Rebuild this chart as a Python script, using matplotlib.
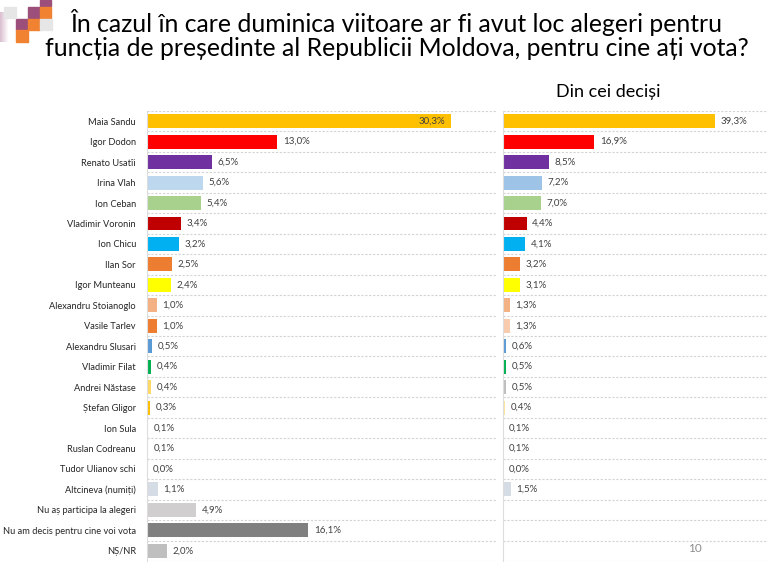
import matplotlib.pyplot as plt
from matplotlib.patches import Rectangle

plt.rcParams['font.family'] = ['Lato', 'DejaVu Sans']

names = ['Maia Sandu', 'Igor Dodon', 'Renato Usatîi', 'Irina Vlah', 'Ion Ceban',
         'Vladimir Voronin', 'Ion Chicu', 'Ilan Sor', 'Igor Munteanu',
         'Alexandru Stoianoglo', 'Vasile Tarlev', 'Alexandru Slusari',
         'Vladimir Filat', 'Andrei Năstase', 'Ștefan Gligor', 'Ion Sula',
         'Ruslan Codreanu', 'Tudor Ulianov schi', 'Altcineva (numiți)',
         'Nu aș participa la alegeri', 'Nu am decis pentru cine voi vota', 'NȘ/NR']
total_vals = [30.3, 13.0, 6.5, 5.6, 5.4, 3.4, 3.2, 2.5, 2.4, 1.0, 1.0, 0.5,
              0.4, 0.4, 0.3, 0.1, 0.1, 0.0, 1.1, 4.9, 16.1, 2.0]
decided_vals = [39.3, 16.9, 8.5, 7.2, 7.0, 4.4, 4.1, 3.2, 3.1, 1.3, 1.3, 0.6,
                0.5, 0.5, 0.4, 0.1, 0.1, 0.0, 1.5]

left_colors = ['#FFC000', '#FF0000', '#7030A0', '#BDD7EE', '#A9D18E', '#C00000',
               '#00B0F0', '#ED7D31', '#FFFF00', '#F4B183', '#ED7D31', '#5B9BD5',
               '#00B050', '#FFD966', '#FFC000', '#FBE5D6', '#FFE699', '#FFFFFF',
               '#D6DCE5', '#D0CECE', '#808080', '#BFBFBF']
right_colors = ['#FFC000', '#FF0000', '#7030A0', '#9DC3E6', '#A9D18E', '#C00000',
                '#00B0F0', '#ED7D31', '#FFFF00', '#F4B183', '#F8CBAD', '#5B9BD5',
                '#00B050', '#BFBFBF', '#FFE699', '#DEEBF7', '#DEEBF7', '#FFFFFF',
                '#D6DCE5']


def fmt(v):
    return f'{v:.1f}%'.replace('.', ',')


def style_axis(ax, xmax):
    n = len(names)
    ax.set_xlim(0, xmax)
    ax.set_ylim(n - 0.5, -0.5)
    for k in range(n + 1):
        ax.axhline(k - 0.5, color='#D3D3D3', lw=0.8, ls=(0, (2, 1.5)), zorder=0)
    for s in ['top', 'right', 'bottom']:
        ax.spines[s].set_visible(False)
    ax.spines['left'].set_color('#DDDDDD')
    ax.set_xticks([])
    ax.tick_params(axis='y', length=0)


def draw_bars(ax, vals, colors, inside_first=False):
    ypos = range(len(vals))
    ax.barh(ypos, vals, height=0.68, color=colors, zorder=2)
    for i, v in enumerate(vals):
        if inside_first and i == 0:
            ax.annotate(fmt(v), (v, i), xytext=(-4, 0), textcoords='offset points',
                        ha='right', va='center', fontsize=7, color='#404040')
        else:
            ax.annotate(fmt(v), (v, i), xytext=(4, 0), textcoords='offset points',
                        ha='left', va='center', fontsize=7, color='#404040')


fig = plt.figure(figsize=(7.68, 5.67), dpi=100)
W, H = 768, 567

ax1 = fig.add_axes([147 / W, 1 - 561 / H, 350 / W, 450 / H])
style_axis(ax1, 34.9)
draw_bars(ax1, total_vals, left_colors, inside_first=True)
ax1.set_yticks(range(len(names)))
ax1.set_yticklabels(names, fontsize=6.7, color='#262626')
ax1.tick_params(axis='y', pad=8)

ax2 = fig.add_axes([503 / W, 1 - 561 / H, 265 / W, 450 / H])
style_axis(ax2, 49.1)
draw_bars(ax2, decided_vals, right_colors)
ax2.set_yticks([])

# titles
fig.text(396 / W, 1 - 22 / H, 'În cazul în care duminica viitoare ar fi avut loc alegeri pentru',
         ha='center', va='center', fontsize=17.8, color='#000000')
fig.text(397 / W, 1 - 48 / H, 'funcția de președinte al Republicii Moldova, pentru cine ați vota?',
         ha='center', va='center', fontsize=17.8, color='#000000')
fig.text(608 / W, 1 - 92 / H, 'Din cei deciși', ha='center', va='center',
         fontsize=13, color='#000000')
fig.text(695 / W, 1 - 549 / H, '10', ha='center', va='center', fontsize=8.5, color='#8C8C8C')

# corner decoration
squares = [(40, 0, 11, 6, '#9B4F7A'), (28, 7, 12, 11, '#9B4F7A'), (40, 7, 11, 11, '#F08232'),
           (16, 19, 12, 11, '#9B4F7A'), (28, 19, 12, 11, '#F08232'), (16, 30, 12, 12, '#F08232'),
           (4, 7, 12, 11, '#E6E6E6'), (40, 19, 12, 11, '#E6E6E6')]
for x, y, w, h, c in squares:
    fig.patches.append(Rectangle((x / W, 1 - (y + h) / H), w / W, h / H,
                                 transform=fig.transFigure, color=c, zorder=1))
for k in range(8):
    fig.patches.append(Rectangle((k / W, 1 - 42 / H), 1 / W, 30 / H, transform=fig.transFigure,
                                 color='#9B4F7A', alpha=0.35 * (1 - k / 8), lw=0, zorder=0))

fig.savefig('out.png', dpi=100)
